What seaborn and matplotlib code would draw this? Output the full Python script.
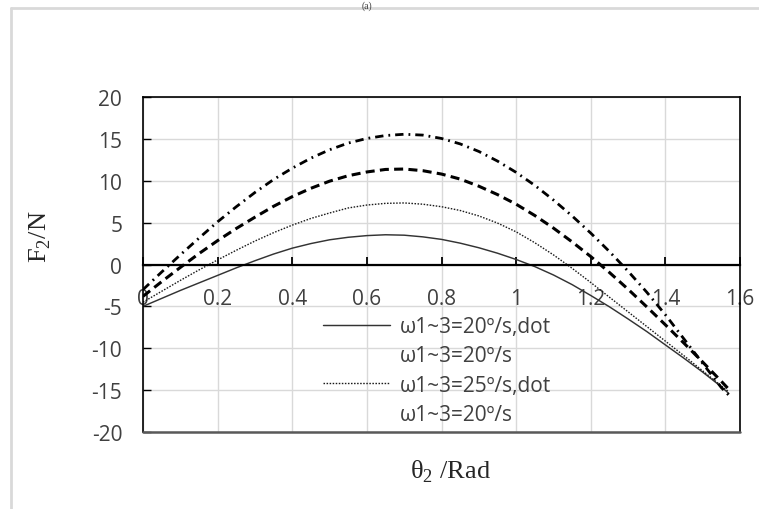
import matplotlib
matplotlib.use("Agg")
import matplotlib.pyplot as plt
from matplotlib.lines import Line2D
import seaborn as sns

# crank angle theta2 (rad)
theta = [0.00, 0.05, 0.10, 0.15, 0.20, 0.25, 0.30, 0.35, 0.40, 0.45, 0.50,
         0.55, 0.60, 0.65, 0.70, 0.75, 0.80, 0.85, 0.90, 0.95, 1.00, 1.05,
         1.10, 1.15, 1.20, 1.25, 1.30, 1.35, 1.40, 1.45, 1.50, 1.55, 1.57]

# force F2 (N) for each angular-speed case
f_20_dot = [-5.0, -4.05, -3.1, -2.2, -1.3, -0.4, 0.45, 1.25, 1.95, 2.5, 2.95,
            3.25, 3.45, 3.55, 3.5, 3.3, 3.0, 2.55, 2.0, 1.35, 0.6, -0.25,
            -1.25, -2.4, -3.7, -5.05, -6.5, -8.0, -9.6, -11.2, -12.85, -14.6, -15.4]
f_20_a = [-3.8, -2.05, -0.35, 1.3, 2.85, 4.3, 5.65, 6.95, 8.1, 9.1, 9.95,
          10.6, 11.05, 11.35, 11.4, 11.2, 10.8, 10.2, 9.35, 8.35, 7.2, 5.85,
          4.35, 2.7, 0.95, -0.95, -2.95, -5.05, -7.2, -9.4, -11.65, -13.95, -14.9]
f_25_dot = [-4.5, -3.2, -1.9, -0.65, 0.55, 1.7, 2.8, 3.8, 4.7, 5.5, 6.15,
            6.75, 7.1, 7.3, 7.35, 7.2, 6.9, 6.45, 5.8, 4.95, 3.9, 2.6,
            1.15, -0.45, -2.15, -3.9, -5.65, -7.4, -9.15, -10.9, -12.7, -14.5, -15.2]
f_20_b = [-3.0, -0.9, 1.15, 3.15, 5.1, 6.9, 8.6, 10.15, 11.5, 12.7, 13.7,
          14.5, 15.05, 15.4, 15.55, 15.45, 15.05, 14.4, 13.5, 12.35, 11.0, 9.45,
          7.7, 5.8, 3.75, 1.55, -0.8, -3.3, -6.0, -8.9, -11.8, -14.7, -15.6]

labels = ["ω1~3=20º/s,dot", "ω1~3=20º/s", "ω1~3=25º/s,dot", "ω1~3=20º/s"]
x_ticks = [0, 0.2, 0.4, 0.6, 0.8, 1.0, 1.2, 1.4, 1.6]
y_ticks = [-20, -15, -10, -5, 0, 5, 10, 15, 20]

sns.set_theme(style="white")
plt.rcParams["font.family"] = ["Open Sans", "DejaVu Sans"]
plt.rcParams["axes.unicode_minus"] = False
plt.rcParams["lines.scale_dashes"] = False
plt.rcParams["mathtext.fontset"] = "custom"
plt.rcParams["mathtext.rm"] = "Liberation Serif"

W, H = 759, 510
fig = plt.figure(figsize=(W / 100, H / 100), dpi=100)
ax = fig.add_axes([143 / W, 1 - 433 / H, (740 - 143) / W, (433 - 98) / H])

styles = [
    (f_20_dot, dict(color="#333333", linewidth=1.05, linestyle="-")),
    (f_20_a, dict(color="black", linewidth=2.2, linestyle=(0, (6.5, 3.8)))),
    (f_25_dot, dict(color="#1a1a1a", linewidth=1.0, linestyle=(0, (1.1, 1.1)))),
    (f_20_b, dict(color="black", linewidth=2.0, linestyle=(0, (6.0, 3.6, 1.3, 3.6)))),
]
lines = []
for vals, kw in styles:
    sns.lineplot(x=theta, y=vals, ax=ax, **kw)
    lines.append(ax.lines[-1])

ax.set_xlim(0, 1.6)
ax.set_ylim(-20, 20)
ax.set_xticks(x_ticks)
ax.set_yticks(y_ticks)
ax.set_xticklabels([f"{v:g}" for v in x_ticks])
ax.set_yticklabels([f"{v:g}" for v in y_ticks])
ax.grid(True, color="#d9d9d9", linewidth=1.0)
ax.set_axisbelow(True)

# axis line through zero, Excel style
ax.spines["bottom"].set_position(("data", 0))
ax.spines["bottom"].set_linewidth(1.6)
ax.spines["bottom"].set_color("black")
ax.spines["bottom"].set_zorder(3)
for side in ("left", "top", "right"):
    ax.spines[side].set_visible(True)
    ax.spines[side].set_color("black")
    ax.spines[side].set_linewidth(1.2)
ax.axhline(-20, color="#595959", linewidth=1.8, clip_on=False, zorder=3)

ax.tick_params(axis="x", direction="in", length=6, width=1.3, color="black",
               pad=17, labelsize=15, labelcolor="#404040", bottom=True)
ax.tick_params(axis="y", direction="in", length=6, width=1.0, color="black",
               pad=15, labelsize=15, labelcolor="#404040", left=True)
ax.set_xlabel("")
ax.set_ylabel("")

# axis titles
fig.text(40 / W, 1 - 237 / H, r"F$_\mathregular{2}$/N", rotation=90,
         ha="center", va="center", fontsize=19, family="Liberation Serif",
         color="#262626")
fig.text(450 / W, 1 - 472 / H, r"θ$_\mathregular{2}$ /Rad",
         ha="center", va="center", fontsize=19, family="Liberation Serif",
         color="#262626")
fig.text(367 / W, 1 - 1 / H, "(a)", ha="center", va="top", fontsize=7,
         family="Liberation Serif", color="#404040")

# chart area border
fig.add_artist(Line2D([11 / W, 11 / W], [0, 1 - 9 / H], transform=fig.transFigure,
                      color="#d9d9d9", linewidth=2))
fig.add_artist(Line2D([11 / W, 1], [1 - 9 / H, 1 - 9 / H], transform=fig.transFigure,
                      color="#d9d9d9", linewidth=2))

blank = Line2D([], [], linestyle="none")
handles = [lines[0], blank, lines[2], blank]
ax.legend(handles, labels, loc="upper left", frameon=False,
          bbox_to_anchor=(323 / W, 1 - 317 / H), bbox_transform=fig.transFigure,
          borderpad=0, borderaxespad=0, handlelength=3.2, handletextpad=0.5,
          labelspacing=0.40, fontsize=15, labelcolor="#404040")

fig.savefig("out.png", dpi=100)
